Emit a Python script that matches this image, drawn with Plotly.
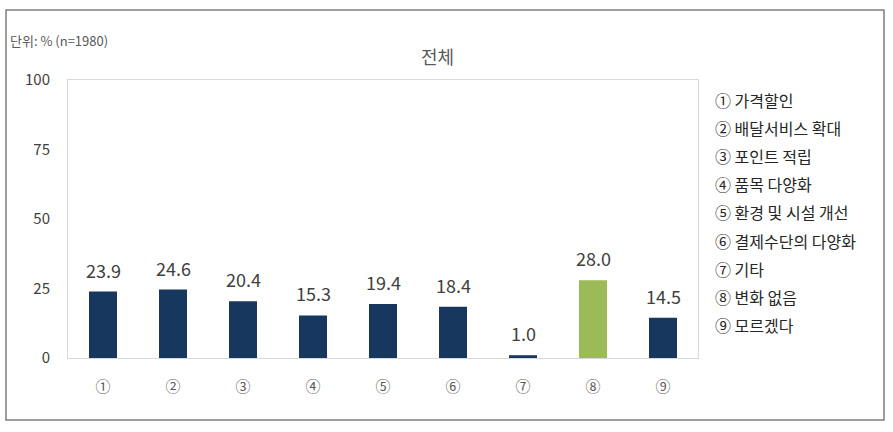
import plotly.graph_objects as go

categories = ["①", "②", "③", "④", "⑤", "⑥", "⑦", "⑧", "⑨"]
values = [23.9, 24.6, 20.4, 15.3, 19.4, 18.4, 1.0, 28.0, 14.5]
bar_colors = ["#17375E"] * 7 + ["#9BBB59"] + ["#17375E"]
legend_items = ["① 가격할인", "② 배달서비스 확대", "③ 포인트 적립", "④ 품목 다양화",
                "⑤ 환경 및 시설 개선", "⑥ 결제수단의 다양화", "⑦ 기타", "⑧ 변화 없음", "⑨ 모르겠다"]
y_ticks = [0, 25, 50, 75, 100]
title_text = "전체"
unit_text = "단위: % (n=1980)"

FONT = "Noto Sans CJK KR"
W, H = 893, 432
L, R, T, B = 68, 698, 80, 358
pw, ph = R - L, B - T

def px(x):
    return (x - L) / pw

def py(y):
    return 1 - (y - T) / ph

fig = go.Figure()
fig.add_trace(go.Bar(x=categories, y=values, marker=dict(color=bar_colors, line=dict(width=0)),
                     width=0.4, hoverinfo="x+y"))

annotations = []
for c, v in zip(categories, values):
    annotations.append(dict(x=c, y=v, xref="x", yref="y", text=f"{v:.1f}", showarrow=False,
                            yanchor="bottom", yshift=7,
                            font=dict(family=FONT, size=18, color="#404040")))
for i, item in enumerate(legend_items):
    annotations.append(dict(x=px(713), y=py(100 + i * 28.1), xref="paper", yref="paper",
                            text=item, showarrow=False, xanchor="left", yanchor="middle",
                            font=dict(family=FONT, size=16, color="#262626")))
annotations.append(dict(x=px(437), y=py(56), xref="paper", yref="paper", text=title_text,
                        showarrow=False, xanchor="center", yanchor="middle",
                        font=dict(family=FONT, size=18, color="#595959")))
annotations.append(dict(x=px(8), y=py(40), xref="paper", yref="paper", text=unit_text,
                        showarrow=False, xanchor="left", yanchor="middle",
                        font=dict(family=FONT, size=13, color="#595959")))

fig.update_layout(
    width=W, height=H,
    margin=dict(l=L, r=W - R, t=T, b=H - B),
    paper_bgcolor="white", plot_bgcolor="white",
    showlegend=False,
    bargap=0.6,
    annotations=annotations,
    shapes=[dict(type="rect", xref="paper", yref="paper",
                 x0=px(6), x1=px(884), y0=py(420), y1=py(10),
                 line=dict(color="#7F7F7F", width=1.5))],
    xaxis=dict(showgrid=False, zeroline=False, showline=True, mirror=True,
               linecolor="#D9D9D9", linewidth=1, ticks="",
               ticklabelstandoff=15,
               tickfont=dict(family=FONT, size=15, color="#595959")),
    yaxis=dict(range=[0, 100], tickvals=y_ticks, showgrid=False, zeroline=False,
               showline=True, mirror=True, linecolor="#D9D9D9", linewidth=1, ticks="",
               ticklabelstandoff=14,
               tickfont=dict(family=FONT, size=15, color="#404040")),
)

fig.write_html("out.html")
